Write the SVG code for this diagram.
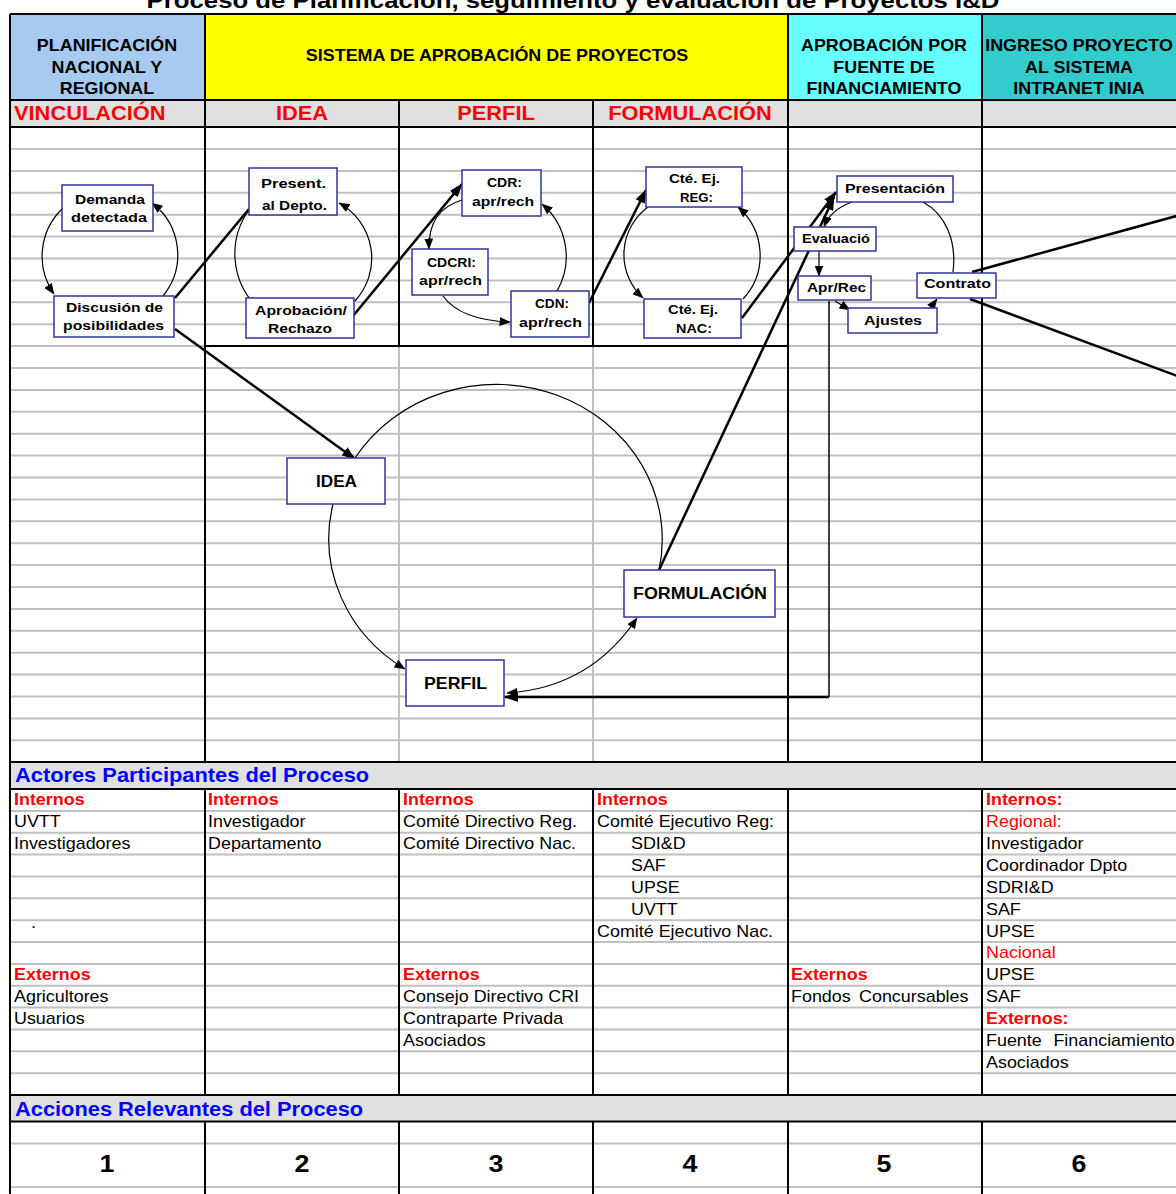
<svg xmlns="http://www.w3.org/2000/svg" width="1176" height="1194" viewBox="0 0 1176 1194">
  <defs>
    <style>
      text { font-family: "Liberation Sans", Arial, sans-serif; fill: #000; }
      .st { transform-box: fill-box; transform-origin: 0 50%; transform: scaleX(1.12); }
      .stc { transform-box: fill-box; transform-origin: 50% 50%; transform: scaleX(1.12); text-anchor: middle; }
      .title { font-size: 23px; font-weight: bold; }
      .hd { font-size: 16px; font-weight: bold; }
      .ph { font-size: 19.5px; font-weight: bold; fill: #FF0000; }
      .sec { font-size: 19.5px; font-weight: bold; fill: #0000FF; }
      .act { font-size: 16px; }
      .red { fill: #FF0000; }
      .rb { font-size: 16px; font-weight: bold; fill: #FF0000; }
      .num { font-size: 24px; font-weight: bold; }
      .gr { stroke: #C0C0C0; stroke-width: 2; fill: none; }
      .bk { stroke: #000; stroke-width: 2; fill: none; }
      .node rect { fill: #FFFFFF; stroke: #333399; stroke-width: 1.5; }
      .node text { font-size: 13px; font-weight: bold; }
      .node text.big { font-size: 16px; }
      .thick { stroke: #000; stroke-width: 2.5; fill: none; }
      .thin { stroke: #000; stroke-width: 1.2; fill: none; }
    </style>
    <marker id="ahT" markerUnits="userSpaceOnUse" viewBox="0 0 14 10" markerWidth="14" markerHeight="10" refX="13" refY="5" orient="auto">
      <path d="M0,0 L14,5 L0,10 z" fill="#000"/>
    </marker>
    <marker id="ahS" markerUnits="userSpaceOnUse" viewBox="0 0 11 9" markerWidth="11" markerHeight="9" refX="10.5" refY="4.5" orient="auto-start-reverse">
      <path d="M0,0 L11,4.5 L0,9 z" fill="#000"/>
    </marker>
  </defs>

  <rect width="1176" height="1194" fill="#FFFFFF"/>

  <!-- title (upper part runs off the sheet) -->
  <text class="title stc" x="573" y="8">Proceso de Planificación, seguimiento y evaluación de Proyectos I&amp;D</text>

  <!-- header band -->
  <g id="header">
    <rect x="10" y="14" width="195" height="86" fill="#A6CAF0"/>
    <rect x="205" y="14" width="583" height="86" fill="#FFFF00"/>
    <rect x="788" y="14" width="194" height="86" fill="#66FFFF"/>
    <rect x="982" y="14" width="194" height="86" fill="#33CCCC"/>
    <rect x="10" y="100" width="1166" height="27" fill="#E0E0E0"/>
    <rect x="10" y="762" width="1166" height="27" fill="#E0E0E0"/>
    <rect x="10" y="1095" width="1166" height="26.5" fill="#E0E0E0"/>
  </g>

  <!-- sheet grid -->
  <g id="grid">
    <path class="gr" d="M10,149H1176M10,170.9H1176M10,192.8H1176M10,214.7H1176M10,236.6H1176M10,258.5H1176M10,280.4H1176M10,302.3H1176M10,324.2H1176M10,346.1H1176M10,368H1176M10,389.9H1176M10,411.8H1176M10,433.7H1176M10,455.6H1176M10,477.5H1176M10,499.4H1176M10,521.3H1176M10,543.2H1176M10,565.1H1176M10,587H1176M10,608.9H1176M10,630.8H1176M10,652.7H1176M10,674.6H1176M10,696.5H1176M10,718.4H1176M10,740.3H1176"/>
    <path class="gr" d="M10,810.9H1176M10,832.7H1176M10,854.6H1176M10,876.4H1176M10,898.3H1176M10,920.2H1176M10,942H1176M10,963.9H1176M10,985.7H1176M10,1007.6H1176M10,1029.5H1176M10,1051.3H1176M10,1073.2H1176"/>
    <path class="gr" d="M10,1143.4H1176M10,1187H1176"/>
    <path class="gr" d="M399,346V762M593,346V762"/>
    <path class="bk" d="M10,14H1176M10,100H1176M10,127H1176M205,346H788M10,762H1176M10,789H1176M10,1095H1176M10,1121.5H1176"/>
    <path class="bk" d="M10,14V1194M205,14V762M788,14V762M982,14V762M205,789V1095M788,789V1095M982,789V1095M205,1121.5V1194M788,1121.5V1194M982,1121.5V1194"/>
    <path class="bk" d="M399,100V346M593,100V346M399,789V1095M593,789V1095M399,1121.5V1194M593,1121.5V1194"/>
  </g>

  <!-- header labels -->
  <g id="header-labels">
    <text class="hd stc" x="107" y="51">PLANIFICACIÓN</text>
    <text class="hd stc" x="107" y="73">NACIONAL Y</text>
    <text class="hd stc" x="107" y="94">REGIONAL</text>
    <text class="hd stc" x="497" y="61">SISTEMA DE APROBACIÓN DE PROYECTOS</text>
    <text class="hd stc" x="884" y="51">APROBACIÓN POR</text>
    <text class="hd stc" x="884" y="73">FUENTE DE</text>
    <text class="hd stc" x="884" y="94">FINANCIAMIENTO</text>
    <text class="hd stc" x="1079" y="51">INGRESO PROYECTO</text>
    <text class="hd stc" x="1079" y="73">AL SISTEMA</text>
    <text class="hd stc" x="1079" y="94">INTRANET INIA</text>
    <text class="ph st" x="14" y="120">VINCULACIÓN</text>
    <text class="ph stc" x="302" y="120">IDEA</text>
    <text class="ph stc" x="496" y="120">PERFIL</text>
    <text class="ph stc" x="690" y="120">FORMULACIÓN</text>
  </g>

  <!-- actors table -->
  <g id="actores">
    <text class="sec st" x="15" y="782.5">Actores Participantes del Proceso</text>
    <text class="rb st" x="14" y="805.5">Internos</text>
    <text class="act st" x="14" y="827.4">UVTT</text>
    <text class="act st" x="14" y="849.2">Investigadores</text>
    <text class="act st" x="31" y="928">.</text>
    <text class="rb st" x="14" y="980.4">Externos</text>
    <text class="act st" x="14" y="1002.2">Agricultores</text>
    <text class="act st" x="14" y="1024.1">Usuarios</text>

    <text class="rb st" x="208" y="805.5">Internos</text>
    <text class="act st" x="208" y="827.4">Investigador</text>
    <text class="act st" x="208" y="849.2">Departamento</text>

    <text class="rb st" x="403" y="805.5">Internos</text>
    <text class="act st" x="403" y="827.4">Comité Directivo Reg.</text>
    <text class="act st" x="403" y="849.2">Comité Directivo Nac.</text>
    <text class="rb st" x="403" y="980.4">Externos</text>
    <text class="act st" x="403" y="1002.2">Consejo Directivo CRI</text>
    <text class="act st" x="403" y="1024.1">Contraparte Privada</text>
    <text class="act st" x="403" y="1046">Asociados</text>

    <text class="rb st" x="597" y="805.5">Internos</text>
    <text class="act st" x="597" y="827.4">Comité Ejecutivo Reg:</text>
    <text class="act st" x="631" y="849.2">SDI&amp;D</text>
    <text class="act st" x="631" y="871.1">SAF</text>
    <text class="act st" x="631" y="892.9">UPSE</text>
    <text class="act st" x="631" y="914.8">UVTT</text>
    <text class="act st" x="597" y="936.7">Comité Ejecutivo Nac.</text>

    <text class="rb st" x="791" y="980.4">Externos</text>
    <text class="act st" x="791" y="1002.2" word-spacing="3">Fondos Concursables</text>

    <text class="rb st" x="986" y="805.5">Internos:</text>
    <text class="act red st" x="986" y="827.4">Regional:</text>
    <text class="act st" x="986" y="849.2">Investigador</text>
    <text class="act st" x="986" y="871.1">Coordinador Dpto</text>
    <text class="act st" x="986" y="892.9">SDRI&amp;D</text>
    <text class="act st" x="986" y="914.8">SAF</text>
    <text class="act st" x="986" y="936.7">UPSE</text>
    <text class="act red st" x="986" y="958.5">Nacional</text>
    <text class="act st" x="986" y="980.4">UPSE</text>
    <text class="act st" x="986" y="1002.2">SAF</text>
    <text class="rb st" x="986" y="1024.1">Externos:</text>
    <text class="act st" x="986" y="1046" word-spacing="6">Fuente Financiamiento</text>
    <text class="act st" x="986" y="1067.8">Asociados</text>
  </g>

  <!-- actions row -->
  <g id="acciones">
    <text class="sec st" x="15" y="1116">Acciones Relevantes del Proceso</text>
    <text class="num stc" x="107" y="1172">1</text>
    <text class="num stc" x="302" y="1172">2</text>
    <text class="num stc" x="496" y="1172">3</text>
    <text class="num stc" x="690" y="1172">4</text>
    <text class="num stc" x="884" y="1172">5</text>
    <text class="num stc" x="1079" y="1172">6</text>
  </g>

  <!-- connectors -->
  <g id="connectors">
    <path class="thick" d="M175,298 L249,209"/>
    <path class="thick" d="M175,329 L355,459" marker-end="url(#ahT)"/>
    <path class="thick" d="M353,316 L462,184" marker-end="url(#ahT)"/>
    <path class="thick" d="M589,303 L646,190" marker-end="url(#ahT)"/>
    <path class="thick" d="M742,318 L836,192" marker-end="url(#ahT)"/>
    <path class="thick" d="M659,570 L834,197" marker-end="url(#ahT)"/>
    <path class="thin" d="M829,301 V697" style="stroke-width:1.5"/>
    <path class="thick" d="M829,697 H505" marker-end="url(#ahT)"/>
    <path class="thick" d="M972,272 L1180,215"/>
    <path class="thick" d="M970,299 L1180,377"/>

    <path class="thin" d="M62,209 A66,66 0 0,0 54,294" marker-end="url(#ahS)"/>
    <path class="thin" d="M163,296 A65,65 0 0,0 152,203" marker-end="url(#ahS)"/>
    <path class="thin" d="M249,210 A75,75 0 0,0 257,307" marker-end="url(#ahS)"/>
    <path class="thin" d="M355,301 A63,63 0 0,0 339,203" marker-end="url(#ahS)"/>
    <path class="thin" d="M462,200 Q428,210 429,249" marker-end="url(#ahS)"/>
    <path class="thin" d="M443,296 Q460,320 510,322" marker-end="url(#ahS)"/>
    <path class="thin" d="M557,291 A69,69 0 0,0 542,204" marker-end="url(#ahS)"/>
    <path class="thin" d="M648,207 A59,59 0 0,0 643,298" marker-end="url(#ahS)"/>
    <path class="thin" d="M743,299 A64,64 0 0,0 738,207" marker-end="url(#ahS)"/>
    <path class="thin" d="M852,202 Q830,210 824,227" marker-end="url(#ahS)"/>
    <path class="thin" d="M819,251 L819,276" marker-end="url(#ahS)"/>
    <path class="thin" d="M835,301 L850,310" marker-end="url(#ahS)"/>
    <path class="thin" d="M929,310 L937,299" marker-end="url(#ahS)"/>
    <path class="thin" d="M923,202 C945,214 957,240 953,272"/>
    <path class="thin" d="M355,458 A166,155 0 0,1 659,570"/>
    <path class="thin" d="M333,504 A166,155 0 0,0 405,669" marker-end="url(#ahS)"/>
    <path class="thin" d="M507,693 Q590,688 637,618" marker-start="url(#ahS)" marker-end="url(#ahS)"/>
  </g>

  <!-- process nodes -->
  <g id="n-demanda" class="node">
    <rect x="62" y="185" width="91" height="46"/>
    <text x="75" y="204" textLength="70" lengthAdjust="spacingAndGlyphs">Demanda</text>
    <text x="71" y="222" textLength="76" lengthAdjust="spacingAndGlyphs">detectada</text>
  </g>
  <g id="n-discusion" class="node">
    <rect x="54" y="296" width="120" height="41"/>
    <text x="66" y="312" textLength="97" lengthAdjust="spacingAndGlyphs">Discusión de</text>
    <text x="63" y="330" textLength="101" lengthAdjust="spacingAndGlyphs">posibilidades</text>
  </g>
  <g id="n-present" class="node">
    <rect x="249" y="168" width="88" height="47"/>
    <text x="261" y="187.5" textLength="65" lengthAdjust="spacingAndGlyphs">Present.</text>
    <text x="262" y="209.5" textLength="65" lengthAdjust="spacingAndGlyphs">al Depto.</text>
  </g>
  <g id="n-aprobacion" class="node">
    <rect x="246" y="298" width="108" height="40"/>
    <text x="255" y="314.5" textLength="92" lengthAdjust="spacingAndGlyphs">Aprobación/</text>
    <text x="268" y="332.5" textLength="64" lengthAdjust="spacingAndGlyphs">Rechazo</text>
  </g>
  <g id="n-cdr" class="node">
    <rect x="462" y="170" width="79" height="46"/>
    <text x="487" y="186.5" textLength="35" lengthAdjust="spacingAndGlyphs">CDR:</text>
    <text x="472" y="206" textLength="62" lengthAdjust="spacingAndGlyphs">apr/rech</text>
  </g>
  <g id="n-cdcri" class="node">
    <rect x="412" y="249" width="76" height="46"/>
    <text x="427" y="266.5" textLength="49" lengthAdjust="spacingAndGlyphs">CDCRI:</text>
    <text x="419" y="284.5" textLength="63" lengthAdjust="spacingAndGlyphs">apr/rech</text>
  </g>
  <g id="n-cdn" class="node">
    <rect x="511" y="291" width="78" height="46"/>
    <text x="535" y="307.5" textLength="34" lengthAdjust="spacingAndGlyphs">CDN:</text>
    <text x="519" y="326.5" textLength="63" lengthAdjust="spacingAndGlyphs">apr/rech</text>
  </g>
  <g id="n-cte-reg" class="node">
    <rect x="646" y="167" width="96" height="40"/>
    <text x="669" y="182.5" textLength="51" lengthAdjust="spacingAndGlyphs">Cté. Ej.</text>
    <text x="680" y="201.5" textLength="33" lengthAdjust="spacingAndGlyphs">REG:</text>
  </g>
  <g id="n-cte-nac" class="node">
    <rect x="644" y="299" width="97" height="39"/>
    <text x="668" y="313.5" textLength="50" lengthAdjust="spacingAndGlyphs">Cté. Ej.</text>
    <text x="676" y="332.5" textLength="36" lengthAdjust="spacingAndGlyphs">NAC:</text>
  </g>
  <g id="n-presentacion" class="node">
    <rect x="837" y="176" width="116" height="26"/>
    <text x="845" y="192.5" textLength="100" lengthAdjust="spacingAndGlyphs">Presentación</text>
  </g>
  <g id="n-evaluacio" class="node">
    <rect x="794" y="227" width="82" height="24"/>
    <text x="802" y="243" textLength="68" lengthAdjust="spacingAndGlyphs">Evaluació</text>
  </g>
  <g id="n-apr-rec" class="node">
    <rect x="798" y="276" width="73" height="24"/>
    <text x="807" y="292" textLength="59" lengthAdjust="spacingAndGlyphs">Apr/Rec</text>
  </g>
  <g id="n-ajustes" class="node">
    <rect x="848" y="308" width="89" height="25"/>
    <text x="864" y="325" textLength="58" lengthAdjust="spacingAndGlyphs">Ajustes</text>
  </g>
  <g id="n-contrato" class="node">
    <rect x="917" y="273" width="79" height="25"/>
    <text x="924" y="288" textLength="67" lengthAdjust="spacingAndGlyphs">Contrato</text>
  </g>
  <g id="n-idea" class="node">
    <rect x="287" y="458" width="98" height="46"/>
    <text class="big" x="316" y="487" textLength="41" lengthAdjust="spacingAndGlyphs">IDEA</text>
  </g>
  <g id="n-perfil" class="node">
    <rect x="406" y="660" width="98" height="46"/>
    <text class="big" x="424" y="689" textLength="63" lengthAdjust="spacingAndGlyphs">PERFIL</text>
  </g>
  <g id="n-formulacion" class="node">
    <rect x="624" y="570" width="151" height="47"/>
    <text class="big" x="633" y="599" textLength="134" lengthAdjust="spacingAndGlyphs">FORMULACIÓN</text>
  </g>
</svg>
